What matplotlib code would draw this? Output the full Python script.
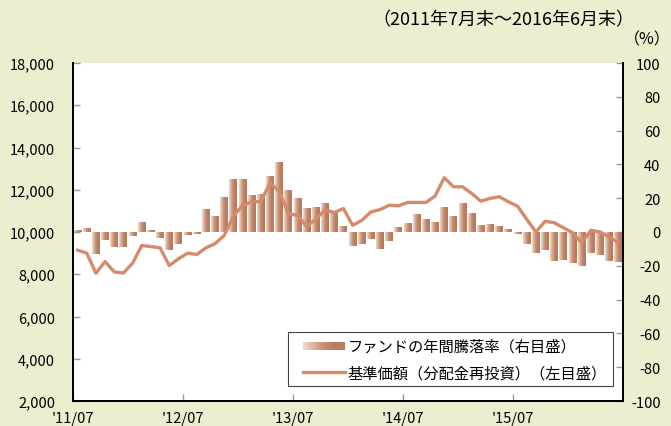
import matplotlib
matplotlib.use("Agg")
import matplotlib.pyplot as plt
import numpy as np
from matplotlib.patches import Rectangle
from matplotlib.lines import Line2D
from matplotlib.legend_handler import HandlerBase
from matplotlib.colors import LinearSegmentedColormap

plt.rcParams['font.family'] = ['Noto Sans CJK JP', 'DejaVu Sans']

# ---- data ----
months = list(range(60))  # 2011/07 .. 2016/06
change_pct = [1.4, 2.2, -13, -4.9, -9, -9, -2.5, 6.2, 1.4, -3.6,
              -10.8, -7.3, -2, -1.4, 13.7, 9.6, 20.8, 31.4, 31.4, 22,
              22.5, 33, 41.4, 25, 20.2, 14.3, 14.9, 17.3, 11.8, 3.7,
              -8.4, -7.3, -4.3, -10.2, -5.5, 3.1, 5.5, 10.8, 7.8, 6.1,
              14.9, 9.6, 17.3, 11.4, 4.3, 4.9, 3.7, 2.0, -1.4, -7.3,
              -12.5, -10.8, -17.3, -16.7, -18.4, -20.2, -12.5, -13.7, -17.3, -17.8]
nav = [9140, 9000, 8050, 8600, 8110, 8060, 8520, 9360, 9310, 9250,
       8410, 8730, 9000, 8935, 9250, 9450, 9840, 10750, 11270, 11420,
       11450, 12330, 11920, 10870, 10790, 10250, 10630, 11050, 10920, 11110,
       10320, 10550, 10950, 11060, 11270, 11240, 11400, 11400, 11400, 11700,
       12570, 12140, 12140, 11820, 11460, 11590, 11670, 11430, 11220, 10600,
       10000, 10510, 10440, 10200, 9970, 9490, 10080, 10000, 9760, 9490]
xtick_pos = [0, 12, 24, 36, 48]
xtick_labels = ["'11/07", "'12/07", "'13/07", "'14/07", "'15/07"]
left_ticks = list(range(2000, 18001, 2000))
right_ticks = list(range(-100, 101, 20))
bar_label = "ファンドの年間騰落率（右目盛）"
line_label = "基準価額（分配金再投資）（左目盛）"

W, H = 671, 427
BG = '#EDEDCF'
LINE_C = '#D38B6B'
TICK_C = '#999999'
grad = LinearSegmentedColormap.from_list('g', [(0, '#EBDDCE'), (0.45, '#C99276'), (0.75, '#BA7A5C'), (1, '#BB7C5E')])

fig = plt.figure(figsize=(W/100, H/100), dpi=100, facecolor=BG)
ax = fig.add_axes([73/W, 1-402/H, 550/W, 338/H])
ax.set_facecolor('white')

xc = np.array(months) + 0.5
bars = ax.bar(xc, change_pct, width=0.86, facecolor='none', edgecolor='none', zorder=2)
gimg = grad(np.linspace(0, 1, 64))[None, :, :]
for b in bars:
    x0, y0 = b.get_x(), b.get_y()
    w, h = b.get_width(), b.get_height()
    im = ax.imshow(gimg, extent=(x0, x0 + w, min(y0, y0 + h), max(y0, y0 + h)),
                   aspect='auto', interpolation='bilinear', zorder=2)
    im.set_clip_path(b)

ax.set_xlim(0, 60)
ax.set_ylim(-100, 100)
ax.set_xticks(xtick_pos)
ax.set_xticklabels(xtick_labels)

ax2 = ax.twinx()
ax2.plot(xc, nav, color=LINE_C, lw=2.4, solid_joinstyle='round', zorder=3)
ax2.set_ylim(2000, 18000)
ax2.set_xlim(0, 60)
ax2.yaxis.tick_left()
ax2.set_yticks(left_ticks)
ax2.set_yticklabels([f"{t:,}" for t in left_ticks])
ax2.tick_params(axis='y', direction='in', length=5, color=TICK_C, width=1, labelsize=10.5, pad=13)

ax.yaxis.tick_right()
ax.set_yticks(right_ticks)
ax.set_yticklabels([str(t) for t in right_ticks])
ax.tick_params(axis='y', direction='in', length=5, color=TICK_C, width=1, labelsize=10.5, pad=27)
for lab in ax.get_yticklabels():
    lab.set_horizontalalignment('right')
ax.tick_params(axis='x', direction='in', length=5, color=TICK_C, width=1, labelsize=10.5, pad=7)

for a in (ax, ax2):
    for s in a.spines.values():
        s.set_color('black')
        s.set_linewidth(1.4)
    a.spines['top'].set_visible(False)


class GradHandler(HandlerBase):
    def create_artists(self, legend, orig_handle, xdescent, ydescent, width, height, fontsize, trans):
        n = 30
        arts = []
        hh = 8 * 72 / 100
        y = -ydescent + (height - hh) / 2
        for i in range(n):
            r = Rectangle((-xdescent + i * width / n, y), width / n * 1.05, hh,
                          facecolor=grad(i / (n - 1)), edgecolor='none', transform=trans)
            arts.append(r)
        return arts


bar_handle = Rectangle((0, 0), 1, 1)
line_handle = Line2D([], [], color=LINE_C, lw=2.4)
leg = ax2.legend([bar_handle, line_handle], [bar_label, line_label],
                 handler_map={Rectangle: GradHandler()},
                 loc='upper left', bbox_to_anchor=((303-73)/550, (402-339)/338),
                 fontsize=11, handlelength=2.75, handletextpad=0.15,
                 frameon=False, borderpad=0, labelspacing=0.6,
                 borderaxespad=0)

# legend frame
frame = Rectangle((288/W, 1-387/H), (613-288)/W, (387-333)/H, transform=fig.transFigure,
                  facecolor='none', edgecolor='#444444', linewidth=0.8, zorder=5)
fig.add_artist(frame)

fig.text(503/W, 1-20/H, "（2011年7月末～2016年6月末）", ha='center', va='center', fontsize=13)
fig.text(647/W, 1-40/H, "（%）", ha='center', va='center', fontsize=11.5)

fig.savefig('out.png', dpi=100, facecolor=BG)
